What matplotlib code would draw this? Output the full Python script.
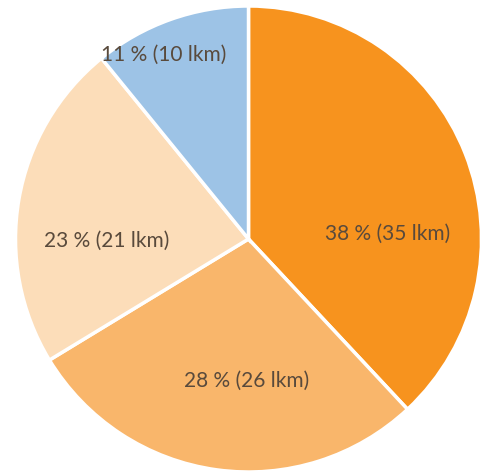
import matplotlib.pyplot as plt

# share of kilometres (lkm)
labels = ['38 % (35 lkm)', '28 % (26 lkm)', '23 % (21 lkm)', '11 % (10 lkm)']
lkm = [35, 26, 21, 10]
colors = ['#F7931E', '#F9B66B', '#FCDDB9', '#9DC3E6']
label_pos = [(0.597, 0.02), (-0.01, -0.61), (-0.61, -0.01), (-0.365, 0.79)]

fig = plt.figure(figsize=(4.86, 4.75), dpi=100)
ax = fig.add_axes([15.5 / 486, 3 / 475, 466 / 486, 466 / 475])

ax.pie(lkm, colors=colors, startangle=90, counterclock=False, radius=1,
       wedgeprops=dict(edgecolor='white', linewidth=2.5))

for lab, (x, y) in zip(labels, label_pos):
    ax.text(x, y, lab, ha='center', va='center', fontsize=15,
            family='Lato', color='#594a3c')

ax.set_xlim(-1, 1)
ax.set_ylim(-1, 1)
ax.set_aspect('equal')
ax.axis('off')

plt.savefig('out.png', dpi=100)
